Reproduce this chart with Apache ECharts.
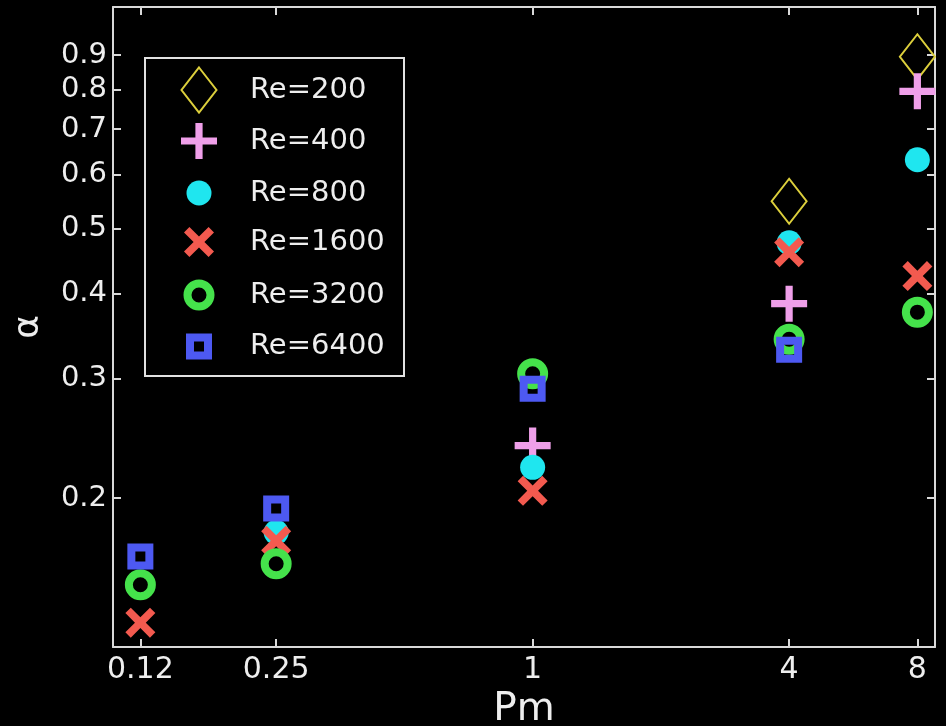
<!DOCTYPE html>
<html><head><meta charset="utf-8">
<script src="https://cdn.jsdelivr.net/npm/echarts@6/dist/echarts.min.js"></script>
<style>html,body{margin:0;padding:0;background:#000;} #c{width:946px;height:726px;}</style>
</head><body><div id="c"></div>
<script>
// ---- data ----
const pm = [0.12, 0.25, 1, 4, 8];
const xTicks = [0.12, 0.25, 1, 4, 8];
const yTicks = [0.2, 0.3, 0.4, 0.5, 0.6, 0.7, 0.8, 0.9];
const seriesNames = ['Re=200', 'Re=400', 'Re=800', 'Re=1600', 'Re=3200', 'Re=6400'];
const re200  = [null,  null,  null,  0.548, 0.895];
const re400  = [null,  null,  0.239, 0.387, 0.796];
const re800  = [null,  0.178, 0.222, 0.476, 0.631];
const re1600 = [0.131, 0.173, 0.205, 0.461, 0.425];
const re3200 = [0.149, 0.160, 0.305, 0.343, 0.376];
const re6400 = [0.164, 0.193, 0.290, 0.331, null];
const allValues = [re200, re400, re800, re1600, re3200, re6400];

// ---- styles ----
const PLUS = 'path://M40,0 L60,0 L60,40 L100,40 L100,60 L60,60 L60,100 L40,100 L40,60 L0,60 L0,40 L40,40 Z';
const CROSS = 'path://M0,18 L18,0 L50,32 L82,0 L100,18 L68,50 L100,82 L82,100 L50,68 L18,100 L0,82 L32,50 Z';
const styles = [
  {symbol: 'diamond', size: [35, 45], fill: 'rgba(0,0,0,0)', stroke: '#dccf3c', bw: 2, lw: 35, lh: 45},
  {symbol: PLUS, size: 36, fill: '#ef9fe9', stroke: '#ef9fe9', bw: 0, lw: 36, lh: 36},
  {symbol: 'circle', size: 25, fill: '#1fe6ef', stroke: '#1fe6ef', bw: 0, lw: 25, lh: 25},
  {symbol: CROSS, size: 30, fill: '#f35a4f', stroke: '#f35a4f', bw: 0, lw: 30, lh: 30},
  {symbol: 'circle', size: 23, fill: 'rgba(0,0,0,0)', stroke: '#45e24b', bw: 8, lw: 23, lh: 23},
  {symbol: 'rect', size: 18, fill: 'rgba(0,0,0,0)', stroke: '#4d59f2', bw: 8, lw: 18, lh: 18}
];
const legendRowY = [90, 141, 191, 242, 295, 345];
const legendIconX = 199, legendTextX = 250;

const TXT = '#eeeeee', AX = '#d9d9d9', FONT = 'DejaVu Sans';
const fmt = v => String(parseFloat(Number(v).toPrecision(3)));

const series = seriesNames.map((name, i) => ({
  name, type: 'scatter',
  xAxisIndex: 0, yAxisIndex: 0,
  symbol: styles[i].symbol, symbolSize: styles[i].size,
  itemStyle: {color: styles[i].fill, borderColor: styles[i].stroke, borderWidth: styles[i].bw, opacity: 1},
  emphasis: {disabled: true},
  data: pm.map((x, k) => allValues[i][k] == null ? null : [x, allValues[i][k]]).filter(d => d)
}));

const legends = seriesNames.map((name, i) => {
  const s = styles[i];
  const half = s.bw / 2;
  return {
    data: [name], orient: 'vertical', selectedMode: false,
    left: legendIconX - s.lw / 2 - half, top: legendRowY[i] - s.lh / 2 - half,
    itemWidth: s.lw, itemHeight: s.lh, padding: 0, itemGap: 0,
    itemStyle: {borderWidth: s.bw},
    textStyle: {color: TXT, fontSize: 29, fontFamily: FONT,
      padding: [0, 0, 0, legendTextX - (legendIconX + s.lw / 2 + 5)]}
  };
});

function xAx(pos, show) {
  return {
    type: 'log', logBase: 2, min: 0.1035, max: 8.8, position: pos,
    axisLine: {show: true, lineStyle: {color: AX, width: 2}},
    axisTick: {show: true, inside: true, length: 8, customValues: xTicks, lineStyle: {color: AX, width: 2}},
    axisLabel: {show: show, customValues: xTicks, color: TXT, fontSize: 30, fontFamily: FONT, margin: 8, formatter: fmt},
    splitLine: {show: false}, minorTick: {show: false},
    name: show ? 'Pm' : '', nameLocation: 'middle', nameGap: 37,
    nameTextStyle: {color: TXT, fontSize: 39, fontFamily: FONT}
  };
}
function yAx(pos, show) {
  return {
    type: 'log', logBase: 10, min: 0.1206, max: 1.06, position: pos,
    axisLine: {show: true, lineStyle: {color: AX, width: 2}},
    axisTick: {show: true, inside: true, length: 8, customValues: yTicks, lineStyle: {color: AX, width: 2}},
    axisLabel: {show: show, customValues: yTicks, color: TXT, fontSize: 29, fontFamily: FONT, margin: 6, formatter: fmt},
    splitLine: {show: false}, minorTick: {show: false},
    name: show ? 'α' : '', nameLocation: 'middle', nameGap: 66, nameRotate: 90,
    nameTextStyle: {color: TXT, fontSize: 36, fontFamily: FONT}
  };
}

const chart = echarts.init(document.getElementById('c'), null, {renderer: 'canvas'});
chart.setOption({
  backgroundColor: '#000',
  animation: false,
  grid: {left: 113, right: 11, top: 7, bottom: 79, containLabel: false, outerBoundsMode: 'none'},
  xAxis: [xAx('bottom', true), xAx('top', false)],
  yAxis: [yAx('left', true), yAx('right', false)],
  legend: legends,
  graphic: [{type: 'rect', left: 144, top: 57, shape: {width: 259, height: 318},
    style: {fill: 'rgba(0,0,0,0)', stroke: '#e2e2e2', lineWidth: 2}, z: 0}],
  series
});
</script></body></html>
